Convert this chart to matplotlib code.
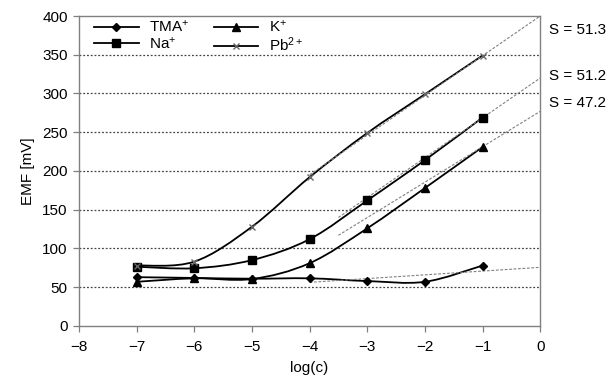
import numpy as np
import matplotlib
matplotlib.use('Agg')
import matplotlib.pyplot as plt
from matplotlib.path import Path
from matplotlib.patches import PathPatch
from matplotlib.lines import Line2D

plt.rcParams['font.family'] = ['Liberation Sans', 'DejaVu Sans']
plt.rcParams['mathtext.fontset'] = 'custom'
plt.rcParams['mathtext.rm'] = 'Liberation Sans'
plt.rcParams['mathtext.it'] = 'Liberation Sans'
plt.rcParams['mathtext.default'] = 'regular'

logc = [-7, -6, -5, -4, -3, -2, -1]
tma = [63, 62, 61, 61.5, 58, 57, 78]
na = [76.5, 74.5, 85, 112, 162, 214, 269]
k = [57, 61.5, 60.6, 81, 126, 178, 231]
pb = [78, 83, 128, 192, 249, 299, 349]

# fitted (extrapolated) lines: end points
fit_pb_x, fit_pb_y = [-4, 0], [195, 400]
fit_na_x, fit_na_y = [-3.5, 0], [140, 320]
fit_k_x, fit_k_y = [-3.5, 0], [117, 277]
fit_tma_x, fit_tma_y = [-4, 0], [56.3, 75.7]

slopes = ['S = 51.3', 'S = 51.2', 'S = 47.2']
slope_y = [382, 322.6, 287.7]

fsize = 11


def smooth_path(x, y):
    # excel-like smoothed line (catmull-rom as cubic bezier)
    pts = np.column_stack([x, y]).astype(float)
    verts = [pts[0]]
    codes = [Path.MOVETO]
    n = len(pts)
    for i in range(n - 1):
        p0 = pts[i - 1] if i > 0 else pts[i]
        p1 = pts[i]
        p2 = pts[i + 1]
        p3 = pts[i + 2] if i + 2 < n else pts[i + 1]
        verts += [p1 + (p2 - p0) / 6, p2 - (p3 - p1) / 6, p2]
        codes += [Path.CURVE4] * 3
    return Path(verts, codes)


fig = plt.figure(figsize=(6.07, 3.81), dpi=100)
ax = fig.add_axes([0.130, 0.1444, 0.760, 0.8136])

for yv in range(50, 400, 50):
    ax.axhline(yv, color='#444444', lw=0.9, ls=(0, (1.5, 1.5)), zorder=1)

for fx, fy in [(fit_pb_x, fit_pb_y), (fit_na_x, fit_na_y), (fit_k_x, fit_k_y), (fit_tma_x, fit_tma_y)]:
    ax.plot(fx, fy, color='#808080', lw=0.8, ls=(0, (2.5, 1.5)), zorder=4)

series = [
    (tma, 'D', 4.5, 'black', r'TMA$^{+}$'),
    (na, 's', 5.5, 'black', r'Na$^{+}$'),
    (k, '^', 6, 'black', r'K$^{+}$'),
    (pb, 'x', 5, '#666666', r'Pb$^{2+}$'),
]
handles = []
for vals, mk, ms, mc, lab in series:
    ax.add_patch(PathPatch(smooth_path(logc, vals), fill=False, edgecolor='black', lw=1.3, zorder=3))
    ax.plot(logc, vals, ls='none', marker=mk, ms=ms, color=mc, mew=1.0, zorder=5)
    handles.append(Line2D([], [], color='black', lw=1.3, marker=mk, ms=ms,
                          markerfacecolor=mc, markeredgecolor=mc, label=lab))

ax.set_xlim(-8, 0)
ax.set_ylim(0, 400)
ax.set_xticks(range(-8, 1))
ax.set_yticks(range(0, 401, 50))
ax.tick_params(axis='both', direction='out', length=4, width=0.9, color='#808080',
               labelsize=fsize)
ax.tick_params(axis='x', pad=6)
ax.tick_params(axis='y', pad=4)
for sp in ax.spines.values():
    sp.set_color('#808080')
    sp.set_linewidth(1.0)
ax.set_xlabel('log(c)', fontsize=fsize, labelpad=5)
ax.set_ylabel('EMF [mV]', fontsize=fsize, labelpad=5)

ax.legend(handles=handles[:], ncol=2, loc='upper left',
          frameon=False, fontsize=fsize, handlelength=2.9, columnspacing=1.6,
          labelspacing=0.05, borderaxespad=0.0, handletextpad=0.7,
          bbox_to_anchor=(0.02, 1.01))

for txt, yv in zip(slopes, slope_y):
    ax.annotate(txt, xy=(0, yv), xytext=(6, 0), textcoords='offset points',
                va='center', ha='left', fontsize=fsize, annotation_clip=False)

fig.savefig('out.png', dpi=100)
